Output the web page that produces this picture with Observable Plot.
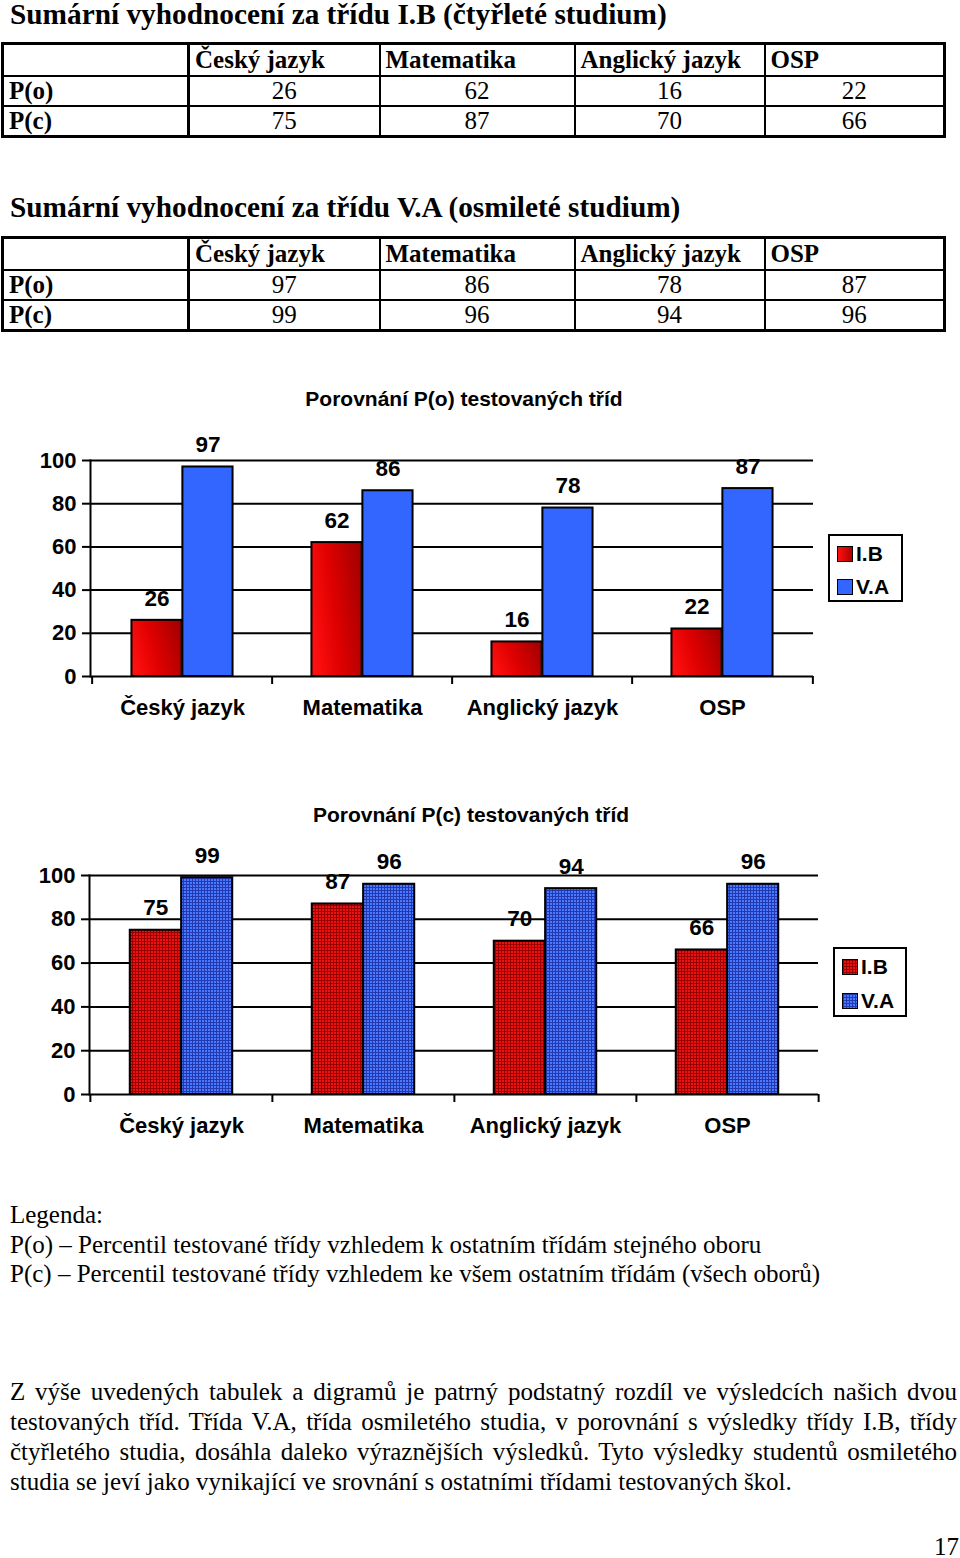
<!DOCTYPE html>
<html><head><meta charset="utf-8">
<script src="https://cdn.jsdelivr.net/npm/d3@7"></script>
<script src="https://cdn.jsdelivr.net/npm/@observablehq/plot@0.6"></script>
<style>
body{margin:0;width:960px;height:1558px;position:relative;background:#fff;overflow:hidden;color:#000;}
.serif{font-family:"Liberation Serif","Times New Roman",serif;}
.sans{font-family:"Liberation Sans",Arial,sans-serif;}
.abs{position:absolute;white-space:nowrap;}
table.tb{border-collapse:collapse;table-layout:fixed;position:absolute;left:1px;width:942px;font-family:"Liberation Serif","Times New Roman",serif;font-size:25px;border:3px solid #000;}
table.tb td{border:2px solid #000;padding:0 5px;line-height:26px;white-space:nowrap;overflow:hidden;}
table.tb td.first{border-right:3px solid #000;font-weight:bold;}
table.tb tr.head td{font-weight:bold;height:30px;}
table.tb tr.row td{height:28px;}
table.tb tr.row td.num{text-align:center;}
.legend{position:absolute;border:2px solid #000;background:#fff;box-sizing:border-box;}
.legend .item{position:absolute;left:7px;font:bold 21px "Liberation Sans",Arial,sans-serif;line-height:22px;}
.legend .sw{display:inline-block;width:14px;height:14px;border:1.5px solid #000;vertical-align:-1px;margin-right:3px;}
.svgwrap{position:absolute;left:0;}
</style>
</head><body>
<div id="root"></div>
<script>
// ---- data ----
const categories = ["Český jazyk", "Matematika", "Anglický jazyk", "OSP"];
const classes = ["I.B", "V.A"];
const pO_IB = [26, 62, 16, 22];
const pC_IB = [75, 87, 70, 66];
const pO_VA = [97, 86, 78, 87];
const pC_VA = [99, 96, 94, 96];
const rowLabels = ["P(o)", "P(c)"];
const yTicks = [0, 20, 40, 60, 80, 100];
const sectionTitles = ["Sumární vyhodnocení za třídu I.B (čtyřleté studium)", "Sumární vyhodnocení za třídu V.A (osmileté studium)"];
const chartTitles = ["Porovnání P(o) testovaných tříd", "Porovnání P(c) testovaných tříd"];
const legendLines = ["Legenda:", "P(o) – Percentil testované třídy vzhledem k ostatním třídám stejného oboru", "P(c) – Percentil testované třídy vzhledem ke všem ostatním třídám (všech oborů)"];
const paragraphLines = [
  "Z výše uvedených tabulek a digramů je patrný podstatný rozdíl ve výsledcích našich dvou",
  "testovaných tříd. Třída V.A, třída osmiletého studia, v porovnání s výsledky třídy I.B, třídy",
  "čtyřletého studia, dosáhla daleko výraznějších výsledků. Tyto výsledky studentů osmiletého",
  "studia se jeví jako vynikající ve srovnání s ostatními třídami testovaných škol."
];
const pageNumber = "17";

const root = document.getElementById("root");
function addText(txt, {left, cy, h = 30, cls = "serif", size = 25, weight = "normal", width, align, last}) {
  const d = document.createElement("div");
  d.className = "abs " + cls;
  d.textContent = txt;
  d.style.left = left + "px";
  d.style.top = (cy - h / 2) + "px";
  d.style.height = h + "px";
  d.style.lineHeight = h + "px";
  d.style.fontSize = size + "px";
  d.style.fontWeight = weight;
  if (width != null) { d.style.width = width + "px"; }
  if (align) { d.style.textAlign = align; d.style.whiteSpace = "normal"; }
  if (last) d.style.textAlignLast = last;
  root.appendChild(d);
  return d;
}

// ---- tables ----
function addTable(top, r1, r2) {
  const t = document.createElement("table");
  t.className = "tb";
  t.style.top = top + "px";
  const cg = document.createElement("colgroup");
  [186, 191, 195, 190, 180].forEach(w => { const c = document.createElement("col"); c.style.width = w + "px"; cg.appendChild(c); });
  t.appendChild(cg);
  const h = t.insertRow(); h.className = "head";
  const c0 = h.insertCell(); c0.className = "first"; c0.innerHTML = "&nbsp;";
  categories.forEach(c => { const td = h.insertCell(); td.textContent = c; });
  [r1, r2].forEach((vals, i) => {
    const r = t.insertRow(); r.className = "row";
    const f = r.insertCell(); f.className = "first"; f.textContent = rowLabels[i];
    vals.forEach(v => { const td = r.insertCell(); td.className = "num"; td.textContent = v; });
  });
  root.appendChild(t);
}
addText(sectionTitles[0], {left: 10, cy: 14, h: 34, size: 29.3, weight: "bold"});
addTable(42, pO_IB, pC_IB);
addText(sectionTitles[1], {left: 10, cy: 207, h: 34, size: 29.3, weight: "bold"});
addTable(236, pO_VA, pC_VA);

// ---- charts ----
function makeChart({ib, va, top, marginTop, marginBottom, marginLeft, marginRight, fillIB, fillVA, defs}) {
  const width = 960, height = 360;
  const bw = (width - marginLeft - marginRight) / categories.length;
  const barW = bw * 51 / 181;
  const outer = (bw - 2 * barW) / 2;
  const dataIB = categories.map((c, i) => ({cat: c, cls: classes[0], v: ib[i]}));
  const dataVA = categories.map((c, i) => ({cat: c, cls: classes[1], v: va[i]}));
  const k = 8 * 100 / (height - marginTop - marginBottom);
  const font = {fontFamily: "Liberation Sans, Arial, sans-serif", fontWeight: "bold"};
  const svg = Plot.plot({
    width, height, marginTop, marginBottom, marginLeft, marginRight,
    style: {background: "transparent", color: "#000", fontFamily: "Liberation Sans, Arial, sans-serif"},
    x: {type: "band", domain: categories, padding: 0, axis: null},
    y: {domain: [0, 100], axis: null},
    marks: [
      Plot.ruleY(yTicks, {stroke: "#000", strokeWidth: 2}),
      Plot.barY(dataIB, {x: "cat", y: "v", fill: fillIB, stroke: "#000", strokeWidth: 2, insetLeft: outer, insetRight: outer + barW}),
      Plot.barY(dataVA, {x: "cat", y: "v", fill: fillVA, stroke: "#000", strokeWidth: 2, insetLeft: outer + barW, insetRight: outer}),
      Plot.frame({anchor: "left", stroke: "#000", strokeWidth: 2}),
      Plot.ruleX(categories, {x: d => d, y1: 0, y2: -k, dx: -bw / 2, stroke: "#000", strokeWidth: 2}),
      Plot.ruleX([categories[categories.length - 1]], {x: d => d, y1: 0, y2: -k, dx: bw / 2, stroke: "#000", strokeWidth: 2}),
      Plot.axisY({ticks: yTicks, label: null, tickSize: 8, tickPadding: 6, stroke: "#000", strokeWidth: 2, ...font, fontSize: 22}),
      Plot.axisX({label: null, tickSize: 0, tickPadding: 23, ...font, fontSize: 22}),
      Plot.text(dataIB, {x: "cat", y: "v", text: d => String(d.v), dx: -barW / 2, dy: -22, ...font, fontSize: 22.5, fill: "#000"}),
      Plot.text(dataVA, {x: "cat", y: "v", text: d => String(d.v), dx: barW / 2, dy: -22, ...font, fontSize: 22.5, fill: "#000"})
    ]
  });
  const ns = "http://www.w3.org/2000/svg";
  const d = document.createElementNS(ns, "defs");
  d.innerHTML = defs;
  svg.insertBefore(d, svg.firstChild);
  const wrap = document.createElement("div");
  wrap.className = "svgwrap";
  wrap.style.top = top + "px";
  wrap.appendChild(svg);
  root.appendChild(wrap);
}

const defs1 = `
<linearGradient id="gradRed" x1="0" y1="0.65" x2="1" y2="0.35">
  <stop offset="0" stop-color="#ff1010"/>
  <stop offset="0.45" stop-color="#e00000"/>
  <stop offset="1" stop-color="#a80000"/>
</linearGradient>`;
const defs2 = `
<pattern id="patRed" width="3" height="3" patternUnits="userSpaceOnUse">
  <rect width="3" height="3" fill="#990000"/>
  <rect x="1" y="1" width="2" height="2" fill="#ee1111"/>
</pattern>
<pattern id="patBlue" width="3" height="3" patternUnits="userSpaceOnUse">
  <rect width="3" height="3" fill="#2239b0"/>
  <rect x="1" y="1" width="2" height="2" fill="#4a78ff"/>
</pattern>`;

makeChart({ib: pO_IB, va: pO_VA, top: 380, marginTop: 80, marginBottom: 64, marginLeft: 90, marginRight: 147,
  fillIB: "url(#gradRed)", fillVA: "#3366ff", defs: defs1});
makeChart({ib: pC_IB, va: pC_VA, top: 800, marginTop: 75, marginBottom: 66, marginLeft: 89, marginRight: 142,
  fillIB: "url(#patRed)", fillVA: "url(#patBlue)", defs: defs2});

// chart titles
addText(chartTitles[0], {left: 214, cy: 399, h: 28, cls: "sans", size: 21, weight: "bold", width: 500, align: "center"});
addText(chartTitles[1], {left: 221, cy: 815, h: 28, cls: "sans", size: 21, weight: "bold", width: 500, align: "center"});

// legends
function addLegend(left, top, w, h, swatches, offsets) {
  const L = document.createElement("div");
  L.className = "legend";
  Object.assign(L.style, {left: left + "px", top: top + "px", width: w + "px", height: h + "px"});
  classes.forEach((c, i) => {
    const it = document.createElement("div");
    it.className = "item";
    it.style.top = offsets[i] + "px";
    const sw = document.createElement("span");
    sw.className = "sw";
    sw.style.background = swatches[i];
    it.appendChild(sw);
    it.appendChild(document.createTextNode(c));
    L.appendChild(it);
  });
  root.appendChild(L);
}
addLegend(828, 534, 75, 68, [
  "linear-gradient(90deg,#ff1010,#b00000)", "#3366ff"
], [7, 40]);
const gridBg = (base, line) => `linear-gradient(90deg, ${line} 1px, transparent 1px) 0 0/3px 3px, linear-gradient(${line} 1px, transparent 1px) 0 0/3px 3px, ${base}`;
addLegend(833, 947, 74, 70, [gridBg("#ee1111", "#990000"), gridBg("#4a78ff", "#2239b0")], [7, 41]);

// legend text & paragraph
legendLines.forEach((t, i) => addText(t, {left: 10, cy: 1215 + i * 29.5, h: 30, size: 25}));
paragraphLines.forEach((t, i) => addText(t, {left: 10, cy: 1392 + i * 30, h: 30, size: 25, width: 947, align: "justify", last: i < paragraphLines.length - 1 ? "justify" : "left"}));
addText(pageNumber, {left: 934, cy: 1547, h: 26, size: 25});
</script>
</body></html>
